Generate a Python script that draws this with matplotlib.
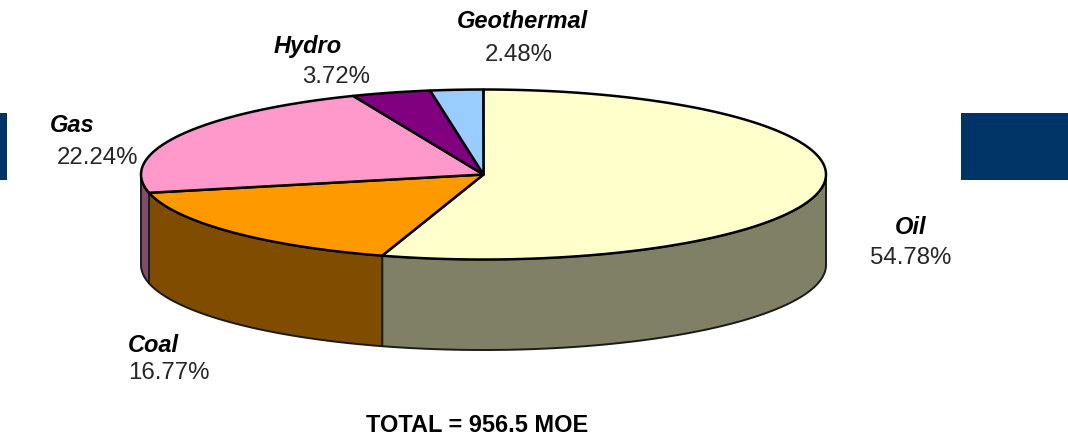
import numpy as np
import matplotlib
matplotlib.use("Agg")
import matplotlib.pyplot as plt
from matplotlib.patches import Polygon, Rectangle

# Energy mix shares, clockwise from twelve o'clock
sources = ["Oil", "Coal", "Gas", "Hydro", "Geothermal"]
shares = [54.78, 16.77, 22.24, 3.72, 2.48]
top_colors = ["#FFFFCC", "#FF9900", "#FF99CC", "#800080", "#99CCFF"]
side_colors = ["#808066", "#804D00", "#804D66", "#400040", "#4D6680"]
total_label = "TOTAL = 956.5 MOE"

# Pie geometry in canvas pixels
CX, CY, RX, RY, DEPTH = 483.5, 174.5, 342.5, 85.0, 90.5
WIDTH, HEIGHT = 1068, 437

plt.rcParams["font.family"] = ["Liberation Sans", "DejaVu Sans"]
fig = plt.figure(figsize=(WIDTH / 100, HEIGHT / 100), dpi=100)
ax = fig.add_axes([0, 0, 1, 1])
ax.set_xlim(0, WIDTH)
ax.set_ylim(HEIGHT, 0)
ax.axis("off")

# Navy panels cut off at both sides of the slide
for x0, w in [(0, 7), (961, 107)]:
    ax.add_patch(Rectangle((x0, 113), w, 67, facecolor="#003366", edgecolor="none", zorder=1))


def rim(t0, t1, dy=0.0):
    """Points along the ellipse between two clockwise angles (radians from the top)."""
    t = np.linspace(t0, t1, max(int(abs(t1 - t0) * 80), 2))
    return np.column_stack([CX + RX * np.sin(t), CY - RY * np.cos(t) + dy])


edges = np.radians(np.concatenate([[0], np.cumsum(shares)]) * 3.6)
LINE = 1.8

# Outer wall: only the front half of the ellipse (90 to 270 degrees) is visible
front0, front1 = np.pi / 2, 3 * np.pi / 2
for i in range(len(shares)):
    a, b = max(edges[i], front0), min(edges[i + 1], front1)
    if a >= b:
        continue
    upper = rim(a, b)
    lower = rim(a, b, DEPTH)[::-1]
    ax.add_patch(Polygon(np.vstack([upper, lower]), closed=True, facecolor=side_colors[i],
                         edgecolor="#1a1a1a", linewidth=1.4, joinstyle="round", zorder=2))

# Top face wedges
for i in range(len(shares)):
    pts = np.vstack([[CX, CY], rim(edges[i], edges[i + 1])])
    ax.add_patch(Polygon(pts, closed=True, facecolor=top_colors[i], edgecolor="black",
                         linewidth=LINE, joinstyle="round", zorder=3))

# Labels: (name position) and (value position), both centred on the given point
name_xy = [(911, 228), (153, 345), (72, 126), (308, 46), (522, 22)]
value_xy = [(911, 258), (169, 373), (97, 158), (336, 77), (519, 55)]
for src, share, nxy, vxy in zip(sources, shares, name_xy, value_xy):
    ax.text(*nxy, src, fontsize=17, fontweight="bold", fontstyle="italic", color="black",
            ha="center", va="center", zorder=5)
    ax.text(*vxy, f"{share:.2f}%", fontsize=17.3, color="#262626",
            ha="center", va="center", zorder=5)

ax.text(477, 425, total_label, fontsize=16.9, fontweight="bold", color="black",
        ha="center", va="center", zorder=5)

fig.savefig("out.png", dpi=100, facecolor="white")
